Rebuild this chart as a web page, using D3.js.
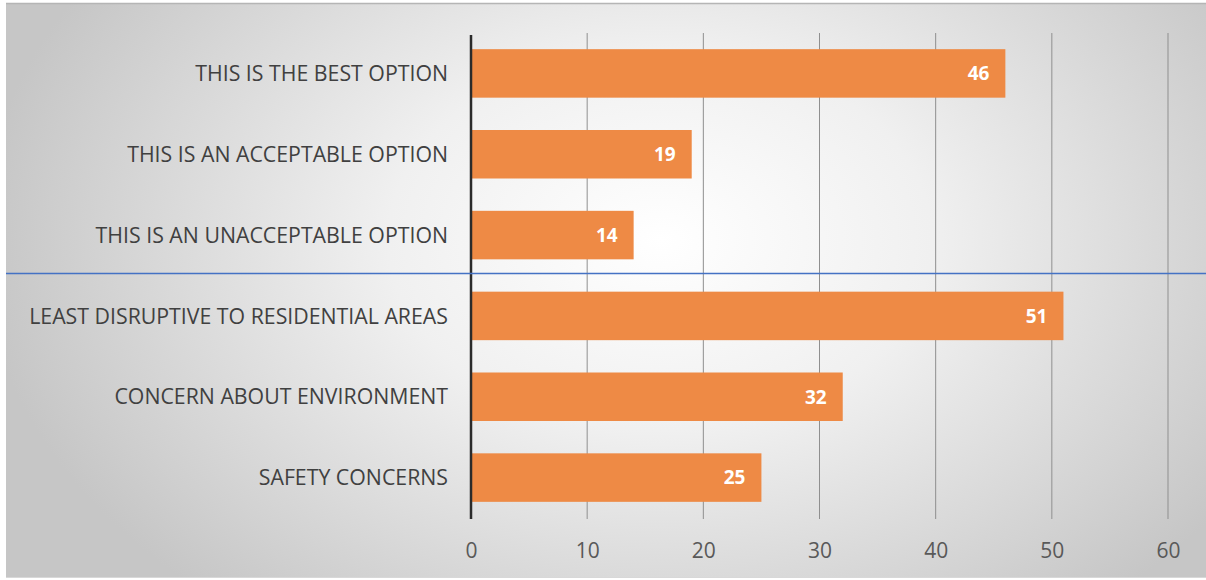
<!DOCTYPE html>
<html>
<head>
<meta charset="utf-8">
<script src="https://cdn.jsdelivr.net/npm/d3@7"></script>
<style>
  html, body { margin: 0; padding: 0; background: #fff; }
  svg { display: block; }
</style>
</head>
<body>
<svg id="chart" width="1206" height="580"></svg>
<script>
// Survey responses: option ratings and reasons
const categories = [
  "THIS IS THE BEST OPTION",
  "THIS IS AN ACCEPTABLE OPTION",
  "THIS IS AN UNACCEPTABLE OPTION",
  "LEAST DISRUPTIVE TO RESIDENTIAL AREAS",
  "CONCERN ABOUT ENVIRONMENT",
  "SAFETY CONCERNS"
];
const values = [46, 19, 14, 51, 32, 25];
const tickValues = [0, 10, 20, 30, 40, 50, 60];

const svg = d3.select("#chart");
const W = 1206, H = 580;

// Soft radial background panel
const defs = svg.append("defs");
const grad = defs.append("radialGradient")
  .attr("id", "bg")
  .attr("gradientUnits", "userSpaceOnUse")
  .attr("cx", 660).attr("cy", 240).attr("r", 680)
  .attr("gradientTransform", "translate(660,240) scale(1,0.7) translate(-660,-240)");
grad.append("stop").attr("offset", "0%").attr("stop-color", "#ffffff");
grad.append("stop").attr("offset", "40%").attr("stop-color", "#f0f0f0");
grad.append("stop").attr("offset", "100%").attr("stop-color", "#c6c6c6");

svg.append("rect").attr("x", 6).attr("y", 3).attr("width", W - 6).attr("height", 575)
  .attr("fill", "url(#bg)");
svg.append("line").attr("x1", 6).attr("x2", W).attr("y1", 3.5).attr("y2", 3.5)
  .attr("stroke", "#b5b5b5").attr("stroke-width", 1.5);
svg.append("line").attr("x1", 6).attr("x2", W).attr("y1", 577.5).attr("y2", 577.5)
  .attr("stroke", "#d8d8d8").attr("stroke-width", 1);

const x = d3.scaleLinear().domain([0, 60]).range([471, 1168]);
const y = d3.scaleBand().domain(categories).range([33, 518]).paddingInner(0.4).paddingOuter(0.2);

// Vertical gridlines
svg.append("g")
  .selectAll("line")
  .data(tickValues.filter(d => d > 0))
  .join("line")
  .attr("x1", d => x(d)).attr("x2", d => x(d))
  .attr("y1", 33).attr("y2", 519)
  .attr("stroke", "#8f8f8f").attr("stroke-width", 1);

// Bars
svg.append("g")
  .selectAll("rect")
  .data(values)
  .join("rect")
  .attr("x", x(0))
  .attr("y", (d, i) => y(categories[i]))
  .attr("width", d => x(d) - x(0))
  .attr("height", y.bandwidth())
  .attr("fill", "#ee8a45");

// Value labels inside bar ends
svg.append("g")
  .selectAll("text")
  .data(values)
  .join("text")
  .attr("x", d => x(d) - 16)
  .attr("y", (d, i) => y(categories[i]) + y.bandwidth() / 2)
  .attr("dy", "0.36em")
  .attr("text-anchor", "end")
  .attr("font-family", "'Open Sans', sans-serif")
  .attr("font-weight", "bold")
  .attr("font-size", 19)
  .attr("fill", "#ffffff")
  .text(d => d);

// Category labels
svg.append("g")
  .selectAll("text")
  .data(categories)
  .join("text")
  .attr("x", 448)
  .attr("y", d => y(d) + y.bandwidth() / 2)
  .attr("dy", "0.36em")
  .attr("text-anchor", "end")
  .attr("font-family", "'Open Sans', sans-serif")
  .attr("font-size", 21.3)
  .attr("fill", "#404040")
  .text(d => d);

// Value axis labels
const xAxis = d3.axisBottom(x).tickValues(tickValues).tickSize(0).tickPadding(0);
const gx = svg.append("g").attr("transform", "translate(0,550)").call(xAxis);
gx.select(".domain").remove();
gx.selectAll("text")
  .attr("dy", "0.36em")
  .attr("font-family", "'Open Sans', sans-serif")
  .attr("font-size", 21)
  .attr("fill", "#595959");

// Category axis line
svg.append("line")
  .attr("x1", x(0)).attr("x2", x(0))
  .attr("y1", 35).attr("y2", 519)
  .attr("stroke", "#2b2b2b").attr("stroke-width", 2.5);

// Divider between ratings and reasons
svg.append("line")
  .attr("x1", 6).attr("x2", W)
  .attr("y1", 273.5).attr("y2", 273.5)
  .attr("stroke", "#4472c4").attr("stroke-width", 1.5);
</script>
</body>
</html>
